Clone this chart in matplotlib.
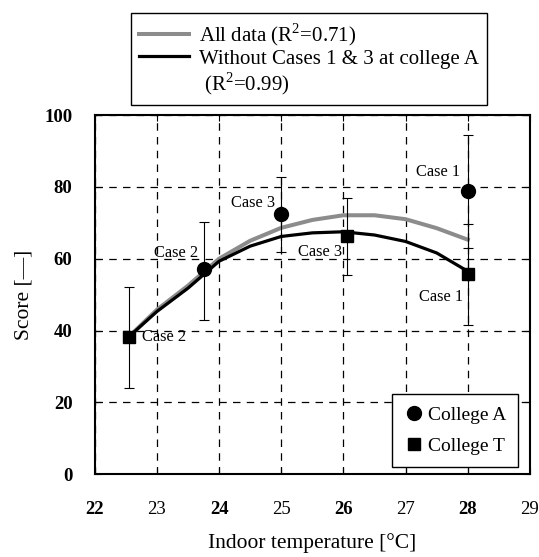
import matplotlib
matplotlib.use('Agg')
import matplotlib.pyplot as plt
from matplotlib.lines import Line2D

plt.rcParams['font.family'] = ['Liberation Serif', 'DejaVu Serif']
plt.rcParams['mathtext.fontset'] = 'custom'
plt.rcParams['mathtext.rm'] = 'Liberation Serif'

# fitted curves
curve_x = [22.55, 23.0, 23.5, 24.0, 24.5, 25.0, 25.5, 26.0, 26.5, 27.0, 27.5, 28.0]
all_data_y = [38.3, 45.8, 52.5, 60.0, 65.0, 68.6, 70.8, 72.1, 72.1, 71.0, 68.5, 65.3]
without_y = [38.3, 45.3, 51.8, 59.3, 63.5, 66.2, 67.2, 67.5, 66.6, 64.8, 61.6, 56.5]

# College A (circles)
a_temp = [23.75, 25.0, 28.0]
a_score = [57.1, 72.4, 78.9]
a_low = [43.0, 61.9, 63.1]
a_high = [70.1, 82.8, 94.4]

# College T (squares)
t_temp = [22.55, 26.05, 28.0]
t_score = [38.2, 66.2, 55.8]
t_low = [24.1, 55.4, 41.6]
t_high = [52.0, 76.9, 69.7]

# case labels: text, x, y, alignment
case_text = ['Case 1', 'Case 1', 'Case 3', 'Case 3', 'Case 2', 'Case 2']
case_x = [27.87, 27.92, 24.90, 25.98, 23.67, 22.76]
case_y = [84.2, 49.4, 75.4, 61.9, 61.5, 38.2]
case_ha = ['right', 'right', 'right', 'right', 'right', 'left']

fig = plt.figure(figsize=(5.39, 5.57), dpi=100)
ax = fig.add_axes([0.1757, 0.1485, 0.8076, 0.645])

gray = '#8c8c8c'
l_all, = ax.plot(curve_x, all_data_y, color=gray, lw=2.9, zorder=3)
l_wo, = ax.plot(curve_x, without_y, color='black', lw=2.3, zorder=4)

a_err = [[s - lo for s, lo in zip(a_score, a_low)], [hi - s for s, hi in zip(a_score, a_high)]]
t_err = [[s - lo for s, lo in zip(t_score, t_low)], [hi - s for s, hi in zip(t_score, t_high)]]
ax.errorbar(a_temp, a_score, yerr=a_err, fmt='none', ecolor='black', elinewidth=0.8,
            capsize=3.5, capthick=0.8, zorder=5)
ax.errorbar(t_temp, t_score, yerr=t_err, fmt='none', ecolor='black', elinewidth=0.8,
            capsize=3.5, capthick=0.8, zorder=5)
pa, = ax.plot(a_temp, a_score, 'o', color='black', ms=10, ls='none', zorder=6)
pt, = ax.plot(t_temp, t_score, 's', color='black', ms=9, ls='none', zorder=6)

for txt, x, y, ha in zip(case_text, case_x, case_y, case_ha):
    ax.text(x, y, txt, ha=ha, va='center', fontsize=11.8, zorder=7)

ax.set_xlim(22, 29)
ax.set_ylim(0, 100)
ax.set_xticks(range(22, 30))
ax.set_yticks(range(0, 101, 20))
ax.grid(True, color='black', ls=(0, (6, 5)), lw=0.9)
ax.set_axisbelow(True)
ax.tick_params(direction='in', length=4, width=0.8, top=True, right=True,
               labelsize=13.5)
ax.tick_params(axis='x', pad=19)
ax.tick_params(axis='y', pad=16)
for sp in ax.spines.values():
    sp.set_linewidth(1.5)

for lab in ax.get_yticklabels():
    lab.set_fontweight('bold')
for lab, v in zip(ax.get_xticklabels(), range(22, 30)):
    if v % 2 == 0:
        lab.set_fontweight('bold')

ax.set_xlabel('Indoor temperature [\u00b0C]', fontsize=15.5, labelpad=11)
ax.set_ylabel('Score [\u2014]', fontsize=15.5, labelpad=8)

ax.legend([pa, pt], ['College A', 'College T'], loc='lower right',
          bbox_to_anchor=(0.9724, 0.0203), borderaxespad=0, fontsize=14,
          frameon=True, fancybox=False, edgecolor='black', framealpha=1,
          handlelength=1.0, handletextpad=0.2, labelspacing=0.7, borderpad=0.62)

blank = Line2D([], [], color='none')
leg = fig.legend([l_all, l_wo, blank],
                 ['All data (R$^2$=0.71)', 'Without Cases 1 & 3 at college A', ' (R$^2$=0.99)'],
                 loc='upper left', bbox_to_anchor=(130.5 / 539, 1 - 12.5 / 557),
                 borderaxespad=0, fontsize=15, frameon=True, fancybox=False,
                 edgecolor='black', framealpha=1, handlelength=2.4,
                 handletextpad=0.45, labelspacing=0.06, borderpad=0.42)
leg.get_frame().set_linewidth(1.0)

fig.savefig('out.png', dpi=100)
